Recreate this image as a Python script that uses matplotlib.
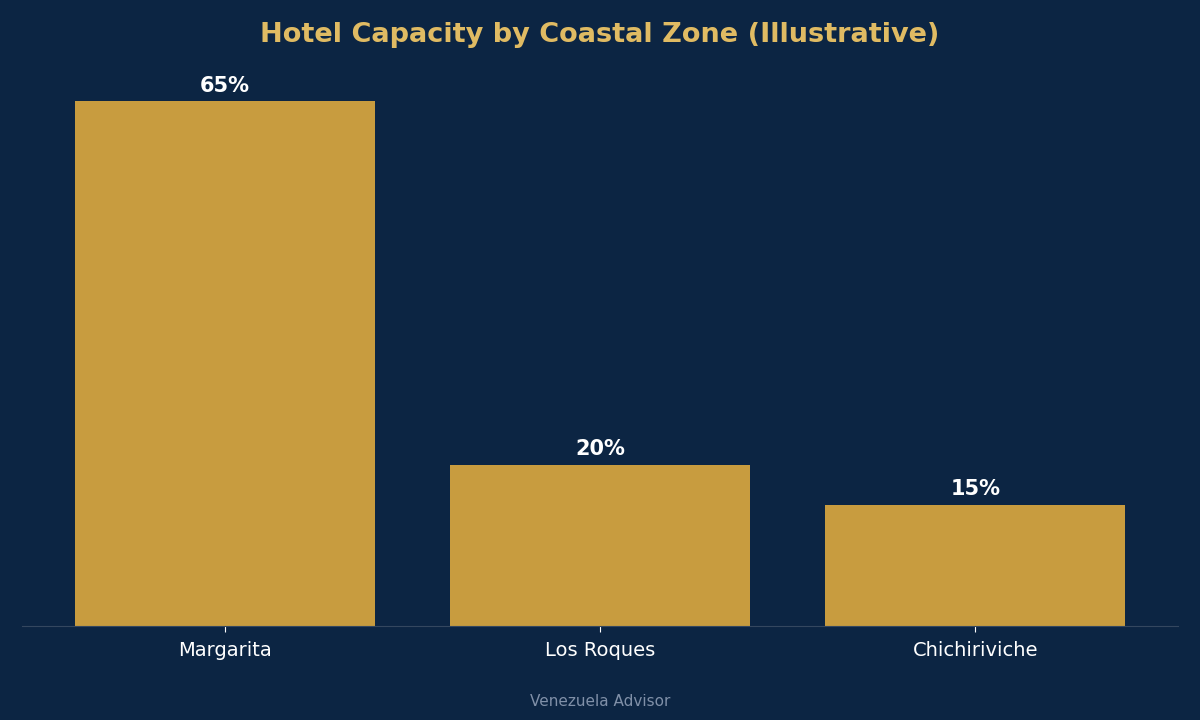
import matplotlib
matplotlib.use('Agg')
import matplotlib.pyplot as plt

zonas = ['Margarita', 'Los Roques', 'Chichiriviche']
capacidad = [65, 20, 15]

fondo = '#0c2543'
dorado = '#c89c3f'

fig = plt.figure(figsize=(12, 7.2), dpi=100, facecolor=fondo)
ax = fig.add_axes([0.0183, 0.1306, 0.9633, 0.807])
ax.set_facecolor(fondo)

barras = ax.bar(zonas, capacidad, width=0.8, color=dorado)
for b, v in zip(barras, capacidad):
    ax.text(b.get_x() + b.get_width() / 2, v + 0.7, f'{v}%',
            ha='center', va='bottom', color='white', fontsize=15, fontweight='bold')

ax.set_ylim(0, 72)
ax.set_yticks([])
for s in ['top', 'right', 'left']:
    ax.spines[s].set_visible(False)
ax.spines['bottom'].set_color('#34475f')
ax.tick_params(axis='x', colors='white', labelsize=14, length=4, pad=7)

fig.text(0.5, 0.951, 'Hotel Capacity by Coastal Zone (Illustrative)',
         ha='center', va='center', color='#e0bb63', fontsize=19.5, fontweight='bold')
fig.text(0.5, 0.026, 'Venezuela Advisor', ha='center', va='center',
         color='#8090a8', fontsize=11)

fig.savefig('out.png', facecolor=fondo)
